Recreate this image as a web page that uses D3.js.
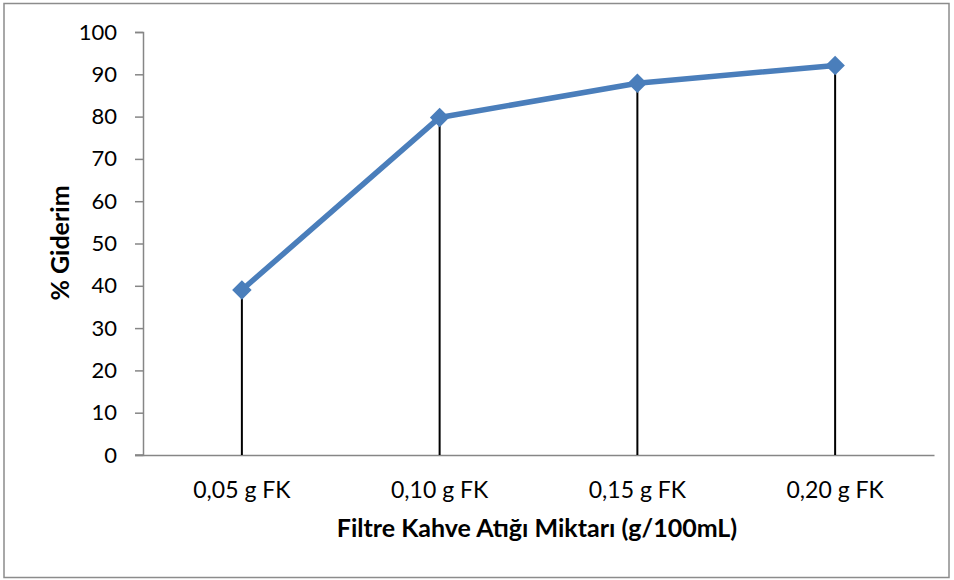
<!DOCTYPE html>
<html><head><meta charset="utf-8">
<script src="https://cdn.jsdelivr.net/npm/d3@7"></script>
<style>body{margin:0;background:#fff}svg{display:block}text{font-family:Lato,"Open Sans",sans-serif}</style>
</head><body><svg id="c" width="954" height="580"></svg>
<script>
const categories = ["0,05 g FK","0,10 g FK","0,15 g FK","0,20 g FK"];
const values = [39.0, 79.8, 87.9, 92.1];
const yTicks = [0,10,20,30,40,50,60,70,80,90,100];
const xTitle = "Filtre Kahve Atığı Miktarı (g/100mL)";
const yTitle = "% Giderim";

const svg = d3.select("#c");
svg.append("rect").attr("x",4).attr("y",3.5).attr("width",945).attr("height",574)
  .attr("fill","#fff").attr("stroke","#8c8c8c").attr("stroke-width",1.5);

const L=143,R=934,T=32,B=455;
const x = d3.scaleBand().domain(categories).range([L,R]).padding(0);
const y = d3.scaleLinear().domain([0,100]).range([B,T]);

// y axis
const ya = svg.append("g").attr("transform",`translate(${L},0)`)
  .call(d3.axisLeft(y).tickValues(yTicks).tickSize(8).tickPadding(18));
ya.select(".domain").attr("stroke","#868686").attr("stroke-width",1.5);
ya.selectAll(".tick line").attr("stroke","#868686").attr("stroke-width",1.5);
ya.selectAll(".tick text").attr("font-size",22).attr("fill","#000");

// x axis
const xa = svg.append("g").attr("transform",`translate(0,${B})`)
  .call(d3.axisBottom(x).tickSize(0).tickPadding(27));
xa.select(".domain").attr("stroke","#868686").attr("stroke-width",1.5);
xa.selectAll(".tick text").attr("font-size",23).attr("fill","#000");
svg.append("line").attr("x1",L-8).attr("x2",L).attr("y1",B).attr("y2",B)
  .attr("stroke","#868686").attr("stroke-width",1.5);

// drop lines
svg.append("g").selectAll("line").data(values).join("line")
  .attr("x1",(d,i)=>x(categories[i])+x.bandwidth()/2)
  .attr("x2",(d,i)=>x(categories[i])+x.bandwidth()/2)
  .attr("y1",d=>y(d)).attr("y2",B)
  .attr("stroke","#000").attr("stroke-width",2);

// line
const line = d3.line().x((d,i)=>x(categories[i])+x.bandwidth()/2).y(d=>y(d));
svg.append("path").datum(values).attr("d",line).attr("fill","none")
  .attr("stroke","#4a7ebb").attr("stroke-width",5.5).attr("stroke-linejoin","round");

// markers
svg.append("g").selectAll("path").data(values).join("path")
  .attr("d",d3.symbol(d3.symbolSquare,190))
  .attr("transform",(d,i)=>`translate(${x(categories[i])+x.bandwidth()/2},${y(d)}) rotate(45)`)
  .attr("fill","#4a7ebb");

// titles
svg.append("text").attr("x",537).attr("y",537).attr("text-anchor","middle")
  .attr("font-size",25).attr("font-weight","bold").text(xTitle);
svg.append("text").attr("transform",`translate(69,243) rotate(-90)`)
  .attr("text-anchor","middle").attr("font-size",25).attr("font-weight","bold").text(yTitle);
</script></body></html>
